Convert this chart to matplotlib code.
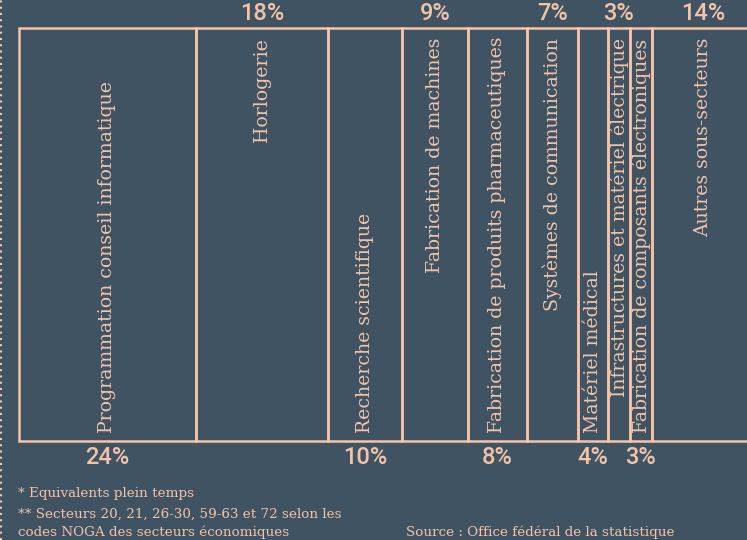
import matplotlib
matplotlib.use("Agg")
import matplotlib.pyplot as plt
from matplotlib.patches import Rectangle
from matplotlib.lines import Line2D

categories = [
    "Programmation conseil informatique",
    "Horlogerie",
    "Recherche scientifique",
    "Fabrication de machines",
    "Fabrication de produits pharmaceutiques",
    "Systèmes de communication",
    "Matériel médical",
    "Infrastructures et matériel électrique",
    "Fabrication de composants électroniques",
    "Autres sous-secteurs",
]
shares = [24, 18, 10, 9, 8, 7, 4, 3, 3, 14]
pct_labels = ["24%", "18%", "10%", "9%", "8%", "7%", "4%", "3%", "3%", "14%"]

BG = "#3f5362"
LINE = "#f7c4a9"
TXT = "#f3c3a8"

W, H = 747, 540
fig = plt.figure(figsize=(W / 100, H / 100), dpi=100, facecolor=BG)

left_px, top_px, bot_px = 19, 28, 441
px_per_pct = 7.36
ax = fig.add_axes([left_px / W, (H - bot_px) / H, (W - left_px) / W, (bot_px - top_px) / H])
ax.set_facecolor(BG)
ax.set_xlim(0, (W - left_px) / px_per_pct)
ax.set_ylim(0, 1)
ax.axis("off")

serif = ["DejaVu Serif"]
sans = ["Roboto", "DejaVu Sans"]

box_h_px = bot_px - top_px
x = 0
for i, (cat, s, lab) in enumerate(zip(categories, shares, pct_labels)):
    ax.add_patch(Rectangle((x, 0), s, 1, facecolor="none", edgecolor=LINE,
                           linewidth=1.8, clip_on=False))
    cx = x + s / 2
    if i % 2 == 0:
        ax.text(cx, 8 / box_h_px, cat, rotation=90, ha="center", va="bottom",
                color=TXT, fontsize=13.6, family=serif, clip_on=False)
        ax.text(cx, -17 / box_h_px, lab, ha="center", va="center",
                color=TXT, fontsize=17, family=sans, fontweight="medium", clip_on=False)
    else:
        ax.text(cx, 1 - 10 / box_h_px, cat, rotation=90, ha="center", va="top",
                color=TXT, fontsize=13.6, family=serif, clip_on=False)
        ax.text(cx, 1 + 15 / box_h_px, lab, ha="center", va="center",
                color=TXT, fontsize=17, family=sans, fontweight="medium", clip_on=False)
    x += s

fig.add_artist(Line2D([1.5 / W, 1.5 / W], [0, 1], transform=fig.transFigure,
                      color=LINE, linewidth=1.5, linestyle=(0, (1, 2))))

def ftext(xp, yp, s, **kw):
    fig.text(xp / W, 1 - yp / H, s, color=TXT, fontsize=9.7, family=serif,
             va="center", ha="left", **kw)

ftext(18, 493, "* Equivalents plein temps")
ftext(18, 514, "** Secteurs 20, 21, 26-30, 59-63 et 72 selon les")
ftext(18, 532, "codes NOGA des secteurs économiques")
ftext(406, 532, "Source : Office fédéral de la statistique")

fig.savefig("out.png", dpi=100, facecolor=BG)
